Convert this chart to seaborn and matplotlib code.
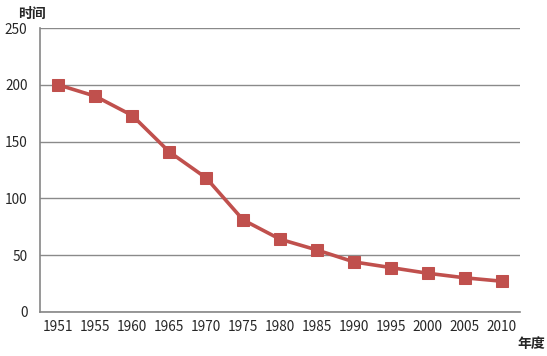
import matplotlib
matplotlib.use("Agg")
import matplotlib.pyplot as plt
import seaborn as sns
import pandas as pd
import numpy as np

years = ["1951", "1955", "1960", "1965", "1970", "1975", "1980", "1985",
         "1990", "1995", "2000", "2005", "2010"]
values = [200, 190, 173, 141, 118, 81, 64, 54.5, 44, 39, 34, 30, 27]
y_ticks = [0, 50, 100, 150, 200, 250]

sns.set_style("white")
plt.rcParams['font.family'] = ['Noto Sans CJK SC', 'DejaVu Sans']

df = pd.DataFrame({"year": years, "value": values})

fig = plt.figure(figsize=(5.47, 3.56), dpi=100)
ax = fig.add_axes([0.073, 0.124, 0.878, 0.797])

color = "#c0504d"
sns.lineplot(data=df, x="year", y="value", ax=ax, color=color, linewidth=2.6,
             marker="s", markersize=8.5, markeredgecolor=color, sort=False)

ax.set_xlim(-0.5, len(years) - 0.5)
ax.set_ylim(0, 250)
ax.set_yticks(y_ticks)
ax.set_yticklabels([str(t) for t in y_ticks], fontsize=9.8)
ax.set_xticks(range(len(years)))
ax.set_xticklabels(years, fontsize=9.8)
ax.tick_params(axis="x", which="major", length=0, pad=6)
ax.set_xticks(np.arange(-0.5, len(years), 1.0), minor=True)
ax.tick_params(axis="x", which="minor", length=5, color="#868686", width=1)
ax.tick_params(axis="y", length=0, pad=9)

ax.grid(axis="y", color="#8a8a8a", linewidth=1)
ax.set_axisbelow(True)
for s in ["top", "right"]:
    ax.spines[s].set_visible(False)
for s in ["left", "bottom"]:
    ax.spines[s].set_color("#868686")
    ax.spines[s].set_linewidth(1.2)

ax.set_xlabel("")
ax.set_ylabel("")
fig.text(0.033, 0.96, "时间", fontsize=10, fontweight="bold", ha="left", va="center")
fig.text(0.946, 0.035, "年度", fontsize=10, fontweight="bold", ha="left", va="center")

fig.savefig("out.png", dpi=100)
